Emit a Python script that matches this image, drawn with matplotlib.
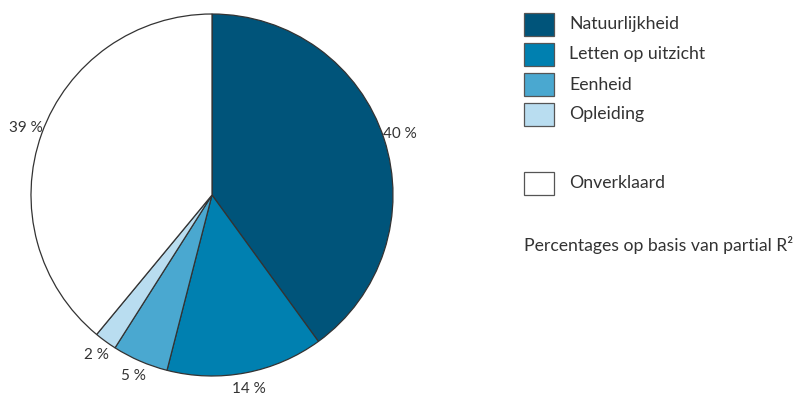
import matplotlib

matplotlib.use("Agg")
import matplotlib.pyplot as plt
from matplotlib.patches import Rectangle

plt.rcParams["font.family"] = ["Lato", "DejaVu Sans"]

# aandeel in verklaarde variantie (partial R2), met de klok mee vanaf boven
categories = ["Natuurlijkheid", "Letten op uitzicht", "Eenheid", "Opleiding", "Onverklaard"]
shares = [40, 14, 5, 2, 39]
labels = ["40 %", "14 %", "5 %", "2 %", "39 %"]
colors = ["#00547a", "#0080b0", "#4aa8d0", "#b9ddf0", "#ffffff"]
note = "Percentages op basis van partial R²"

W, H = 797, 400
fig = plt.figure(figsize=(W / 100, H / 100), dpi=100)

# pie: centre (212,195) px, radius 181 px
cx, cy, r = 212, 195, 181
ax = fig.add_axes([(cx - r) / W, (H - cy - r) / H, 2 * r / W, 2 * r / H])
wedges, texts = ax.pie(
    shares,
    labels=labels,
    colors=colors,
    startangle=90,
    counterclock=False,
    labeldistance=1.09,
    wedgeprops=dict(edgecolor="#333333", linewidth=0.9),
    textprops=dict(fontsize=11, color="#333333"),
)
ax.set_xlim(-1, 1)
ax.set_ylim(-1, 1)
ax.set_aspect("equal")
for t in texts:
    t.set_clip_on(False)
    t.set_ha("center")
    t.set_va("center")

# legenda
box_x, box_w, box_h = 524, 30, 23
rows_y = [13, 43, 73, 103, 172]
for name, col, y in zip(categories, colors, rows_y):
    fig.patches.append(Rectangle((box_x / W, 1 - (y + box_h) / H), box_w / W, box_h / H,
                                 transform=fig.transFigure, facecolor=col,
                                 edgecolor="#555555", linewidth=0.9))
    fig.text(569 / W, 1 - (y + box_h / 2) / H, name, fontsize=12.7, color="#333333",
             va="center", ha="left")

fig.text(box_x / W, 1 - 245 / H, note, fontsize=12.7, color="#333333", va="center", ha="left")

fig.savefig("out.png", dpi=100)
